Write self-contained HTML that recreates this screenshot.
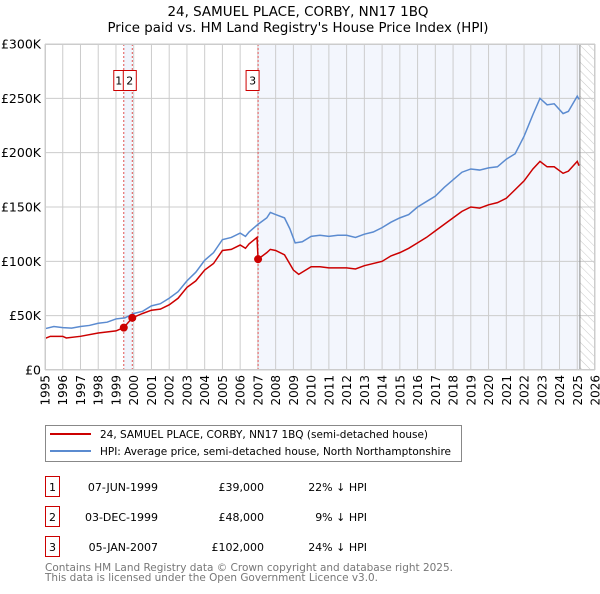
<!DOCTYPE html>
<html><head><meta charset="utf-8"><style>
body{margin:0;background:#fff;width:600px;height:590px;overflow:hidden;font-family:"DejaVu Sans","Liberation Sans",sans-serif}
svg text{font-family:"DejaVu Sans","Liberation Sans",sans-serif}
</style></head><body>
<svg id="chart" width="600" height="590" xmlns="http://www.w3.org/2000/svg">
<defs><pattern id="hatch" width="6" height="6" patternUnits="userSpaceOnUse" patternTransform="rotate(-45)"><line x1="0" y1="0" x2="0" y2="6" stroke="#bbb" stroke-width="0.8"/></pattern></defs>
<text x="298" y="16" text-anchor="middle" font-size="13.3" textLength="261" lengthAdjust="spacingAndGlyphs">24, SAMUEL PLACE, CORBY, NN17 1BQ</text>
<text x="298" y="32" text-anchor="middle" font-size="13.3" textLength="381" lengthAdjust="spacingAndGlyphs">Price paid vs. HM Land Registry's House Price Index (HPI)</text>
<g id="plot"></g>
<g>
<rect x="45.5" y="425.5" width="416" height="36" fill="#fff" stroke="#888"/>
<line x1="50" y1="434" x2="91" y2="434" stroke="#cc0000" stroke-width="2"/>
<text x="100" y="438" font-size="10.5" textLength="328" lengthAdjust="spacingAndGlyphs">24, SAMUEL PLACE, CORBY, NN17 1BQ (semi-detached house)</text>
<line x1="50" y1="451" x2="91" y2="451" stroke="#5b8bd0" stroke-width="2"/>
<text x="100" y="455" font-size="10.5" textLength="351" lengthAdjust="spacingAndGlyphs">HPI: Average price, semi-detached house, North Northamptonshire</text>
</g>
<g id="table" font-size="11"></g>
<text x="45" y="571" font-size="10.5" fill="#777" textLength="408" lengthAdjust="spacingAndGlyphs">Contains HM Land Registry data © Crown copyright and database right 2025.</text>
<text x="45" y="581" font-size="10.5" fill="#777" textLength="333" lengthAdjust="spacingAndGlyphs">This data is licensed under the Open Government Licence v3.0.</text>
</svg>
<script>
const hpiX=[1995,1995.5,1996,1996.5,1997,1997.5,1998,1998.5,1999,1999.5,2000,2000.5,2001,2001.5,2002,2002.5,2003,2003.5,2004,2004.5,2005,2005.5,2006,2006.3,2006.5,2007,2007.5,2007.7,2008,2008.5,2008.8,2009.1,2009.5,2010,2010.5,2011,2011.5,2012,2012.5,2013,2013.5,2014,2014.5,2015,2015.5,2016,2016.5,2017,2017.5,2018,2018.5,2019,2019.5,2020,2020.5,2021,2021.5,2022,2022.5,2022.9,2023.3,2023.7,2024.2,2024.5,2025,2025.1];
const hpiY=[38,40,39,38.5,40,41,43,44,47,48,52,54,59,61,66,72,82,90,101,108,120,122,126,123,127,134,140,145,143,140,130,117,118,123,124,123,124,124,122,125,127,131,136,140,143,150,155,160,168,175,182,185,184,186,187,194,199,215,235,250,244,245,236,238,252,249];
const ppX=[1995,1995.3,1996,1996.2,1997,1998,1999,1999.44,1999.92,2000.5,2001,2001.5,2002,2002.5,2003,2003.5,2004,2004.5,2005,2005.5,2006,2006.3,2006.5,2006.95,2007.01,2007.5,2007.7,2008,2008.5,2009,2009.3,2010,2010.5,2011,2012,2012.5,2013,2014,2014.5,2015,2015.5,2016,2016.5,2017,2017.5,2018,2018.5,2019,2019.5,2020,2020.5,2021,2021.5,2022,2022.5,2022.9,2023.3,2023.7,2024.2,2024.5,2025,2025.1];
const ppY=[29,31,31,29.5,31,34,36,39,48,52,55,56,60,66,76,82,92,98,110,111,115,112,116,122,102,108,111,110,106,92,88,95,95,94,94,93,96,100,105,108,112,117,122,128,134,140,146,150,149,152,154,158,166,174,185,192,187,187,181,183,192,188];
const saleX=[1999.44,1999.92,2007.01];
const saleY=[39,48,102];
const saleLabels=["1","2","3"];
const saleDates=["07-JUN-1999","03-DEC-1999","05-JAN-2007"];
const salePrices=["£39,000","£48,000","£102,000"];
const saleDiffs=["22% ↓ HPI","9% ↓ HPI","24% ↓ HPI"];
const yTicks=[0,50,100,150,200,250,300];
const yTickLabels=["£0","£50K","£100K","£150K","£200K","£250K","£300K"];
const xTicks=[1995,1996,1997,1998,1999,2000,2001,2002,2003,2004,2005,2006,2007,2008,2009,2010,2011,2012,2013,2014,2015,2016,2017,2018,2019,2020,2021,2022,2023,2024,2025,2026];
const dataEnd=2025.15;

const NS="http://www.w3.org/2000/svg";
const X0=45,X1=595,Y0=370,Y1=44;
const sx=v=>X0+(v-1995)/31*(X1-X0);
const sy=v=>Y0-v/300*(Y0-Y1);
const plot=document.getElementById('plot');
function mk(tag,attrs,parent){const e=document.createElementNS(NS,tag);for(const k in attrs)e.setAttribute(k,attrs[k]);(parent||plot).appendChild(e);return e;}
let e;
e=mk('rect',{x:sx(saleX[0]),y:Y1,width:sx(saleX[1])-sx(saleX[0]),height:Y0-Y1,fill:'#f0f4fc'});


e=mk('rect',{x:sx(saleX[2]),y:Y1,width:sx(dataEnd)-sx(saleX[2]),height:Y0-Y1,fill:'#f3f6fd'});


e=mk('rect',{x:sx(dataEnd),y:Y1,width:X1-sx(dataEnd),height:Y0-Y1,fill:'url(#hatch)'});


xTicks.forEach(t=>{const l=mk('line',{x1:sx(t),x2:sx(t),y1:Y1,y2:Y0,stroke:'#ccc','stroke-width':1});


const tx=mk('text',{x:0,y:0,'font-size':12,'text-anchor':'end',transform:`translate(${sx(t)+4.5},375) rotate(-90)`});tx.textContent=t;

});
yTicks.forEach((t,i)=>{const l=mk('line',{x1:X0,x2:X1,y1:sy(t),y2:sy(t),stroke:'#ccc','stroke-width':1});


const tx=mk('text',{x:41,y:sy(t)+4.5,'font-size':12.5,'text-anchor':'end'});tx.textContent=yTickLabels[i];

});
e=mk('line',{x1:sx(dataEnd),x2:sx(dataEnd),y1:Y1,y2:Y0,stroke:'#888','stroke-width':1});


saleX.forEach((s,i)=>{const l=mk('line',{x1:sx(s),x2:sx(s),y1:Y1,y2:Y0,stroke:'#e05050','stroke-dasharray':'2,2','stroke-width':1});


const left=i===0?sx(s)-10:(i===1?sx(s)-9:sx(s)-12);
const r=mk('rect',{x:left,y:70.5,width:i===0?10:13,height:20,fill:'#fff',stroke:'#cc0000'});


const t=mk('text',{x:left+(i===0?5:6.5),y:84.5,'font-size':11,'text-anchor':'middle'});t.textContent=saleLabels[i];

});
e=mk('polyline',{points:hpiX.map((x,i)=>sx(x)+','+sy(hpiY[i])).join(' '),fill:'none',stroke:'#5b8bd0','stroke-width':1.5});


e=mk('polyline',{points:ppX.map((x,i)=>sx(x)+','+sy(ppY[i])).join(' '),fill:'none',stroke:'#cc0000','stroke-width':1.5});


saleX.forEach((s,i)=>{const c=mk('circle',{cx:sx(s),cy:sy(saleY[i]),r:4,fill:'#cc0000'});

});
e=mk('rect',{x:X0+0.5,y:Y1+0.5,width:X1-X0-1,height:Y0-Y1-1,fill:'none',stroke:'#ccc'});


const tb=document.getElementById('table');
saleLabels.forEach((lab,i)=>{const y=477+i*30;
const r=mk('rect',{x:45.5,y:y-0.5,width:14,height:20,fill:'#fff',stroke:'#cc0000'},tb);


const vals=[[lab,52.5,'middle'],[saleDates[i],158,'end'],[salePrices[i],264,'end'],[saleDiffs[i],367,'end']];
vals.forEach(v=>{const t=mk('text',{x:v[1],y:y+14,'text-anchor':v[2]},tb);t.textContent=v[0];

});});
</script>
</body></html>
